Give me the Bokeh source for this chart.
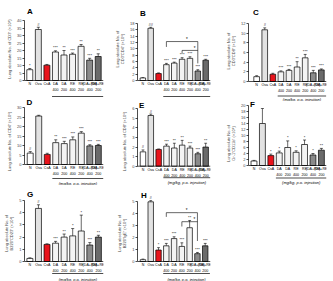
from bokeh.plotting import figure
from bokeh.layouts import row, column
from bokeh.models import Range1d, FixedTicker, LinearAxis, Span, Spacer, ColumnDataSource
from bokeh.core.properties import value
from bokeh.embed import file_html
from bokeh.resources import INLINE

# ---- shared categories -------------------------------------------------
groups = ["N", "Ova", "CsA", "DA", "DA", "RE", "RE", "(DA+RE)", "(DA+RE)"]
doses = ["", "", "", "400", "200", "400", "200", "400", "200"]
bar_colors = ["#ffffff", "#e2e2e2", "#e8141c", "#f3f3f3", "#f3f3f3",
              "#f3f3f3", "#f3f3f3", "#8a8a8a", "#6a6a6a"]
caption = "(mg/kg, p.o. injection)"

# ---- panel values (mean, error, significance marks) ---------------------
a_vals = [7.2, 34.0, 10.2, 19.0, 17.0, 17.5, 22.8, 13.6, 16.0]
a_err = [0.8, 1.5, 0.5, 0.8, 3.0, 0.8, 1.2, 1.2, 1.8]
a_sig = ["*", "#", "", "***", "**", "***", "**", "***", "**"]

b_vals = [0.8, 16.5, 2.2, 5.0, 5.5, 6.7, 7.0, 3.0, 6.4]
b_err = [0.1, 0.3, 0.2, 0.4, 0.3, 0.5, 0.5, 0.4, 0.3]
b_sig = ["", "##", "", "***", "***", "***", "***", "***", "***"]
b_brackets = [(3, 7, 12.3, 10.6, 5.4), (5, 7, 9.5, 8.7, 9.5)]

c_vals = [1.0, 10.7, 1.5, 2.0, 2.3, 3.0, 4.9, 1.8, 2.4]
c_err = [0.2, 0.4, 0.2, 0.2, 0.2, 1.1, 0.7, 0.5, 0.2]
c_sig = ["", "#", "", "***", "***", "**", "***", "***", "***"]

d_vals = [6.0, 25.5, 5.3, 11.5, 11.0, 13.0, 16.5, 9.8, 10.0]
d_err = [0.8, 0.4, 0.6, 1.5, 1.2, 1.5, 0.8, 0.6, 0.6]
d_sig = ["#", "", "", "**", "***", "***", "***", "***", "***"]

e_vals = [1.5, 5.3, 1.75, 2.1, 1.9, 2.2, 1.9, 1.3, 2.0]
e_err = [0.2, 0.15, 0.05, 0.2, 0.5, 0.5, 0.2, 0.15, 0.4]
e_sig = ["#", "#", "", "***", "**", "**", "***", "***", "**"]

f_vals = [1.5, 14.0, 3.3, 4.2, 6.0, 4.4, 7.0, 3.5, 5.1]
f_err = [0.2, 5.0, 0.5, 0.6, 2.2, 0.5, 1.5, 0.5, 0.6]
f_sig = ["", "", "*", "*", "*", "*", "*", "*", "**"]

g_vals = [0.25, 4.35, 1.4, 1.5, 2.0, 2.1, 2.5, 1.35, 2.0]
g_err = [0.05, 0.3, 0.05, 0.15, 0.25, 0.6, 1.3, 0.2, 0.15]
g_sig = ["", "#", "", "***", "**", "*", "*", "***", "**"]

h_vals = [0.15, 4.95, 0.95, 1.3, 1.9, 1.25, 2.8, 0.65, 1.3]
h_err = [0.05, 0.1, 0.2, 0.2, 0.15, 0.3, 0.6, 0.1, 0.2]
h_sig = ["", "#", "*", "***", "***", "***", "**", "***", "***"]
h_brackets = [(3, 7, 4.05, 3.7, 1.7), (5, 7, 3.3, 2.9, 3.3)]

FONT = "Liberation Sans"


def make_panel(letter, ylabel, ymax, step, vals, errs, sigs, size, left,
               centers, top, base, letter_pos, underline=None, cap_px=None,
               brackets=None):
    W, H = size
    n = len(vals)
    c0, c8 = centers
    u = (c8 - c0) / (n - 1)
    right_px = c8 + 0.65 * u
    br = int(round(W - right_px))
    frame_w = W - left - br
    xs = -(c0 - left) / u
    xe = xs + frame_w / u
    s = (base - top) / ymax
    ye = ymax + top / s
    ys = -(H - base) / s

    p = figure(width=W, height=H, title=None,
               x_range=Range1d(xs, xe), y_range=Range1d(ys, ye),
               x_axis_type=None, y_axis_type=None,
               toolbar_location=None, output_backend="svg",
               min_border_left=left, min_border_right=br,
               min_border_top=0, min_border_bottom=0,
               outline_line_color=None, background_fill_color="white",
               border_fill_color="white")

    ticks = [i * step for i in range(int(round(ymax / step)) + 1)]
    ax = LinearAxis(ticker=FixedTicker(ticks=ticks, minor_ticks=[]),
                    bounds=(0, ymax), axis_label=ylabel,
                    axis_line_width=0.7, major_tick_line_width=0.7,
                    major_tick_out=2, major_tick_in=0,
                    major_label_standoff=1, axis_label_standoff=2,
                    major_label_text_font=FONT,
                    major_label_text_font_size="4px",
                    axis_label_text_font=FONT,
                    axis_label_text_font_size="4px",
                    axis_label_text_font_style="normal",
                    axis_label_text_line_height=1.1)
    p.add_layout(ax, "left")
    p.add_layout(Span(location=0, dimension="width", line_color="black",
                      line_width=0.7))

    xs_idx = list(range(n))
    src = ColumnDataSource(dict(
        x=xs_idx, top=vals, color=bar_colors,
        hi=[v + e for v, e in zip(vals, errs)],
        cl=[x - 0.18 for x in xs_idx], cr=[x + 0.18 for x in xs_idx],
        sig=sigs, grp=groups, dose=doses))

    p.segment(x0="x", y0="top", x1="x", y1="hi", source=src,
              line_color="black", line_width=0.6)
    p.segment(x0="cl", y0="hi", x1="cr", y1="hi", source=src,
              line_color="black", line_width=0.6)
    p.vbar(x="x", top="top", bottom=0, width=0.7, source=src,
           fill_color="color", line_color="black", line_width=0.7)

    p.text(x="x", y="hi", text="sig", source=src, y_offset=-0.5,
           text_align="center", text_baseline="bottom",
           text_font=value(FONT), text_font_size="4px", text_color="black")

    # two-line category labels under the bars
    p.text(x="x", y=0, text="grp", source=src, y_offset=3.5,
           text_align="center", text_baseline="middle",
           text_font=value(FONT), text_font_size="3.6px", text_color="black")
    p.text(x="x", y=0, text="dose", source=src, y_offset=9,
           text_align="center", text_baseline="middle",
           text_font=value(FONT), text_font_size="3.6px", text_color="black")

    if underline is not None:
        yu = -underline / s
        p.segment(x0=[2.6], y0=[yu], x1=[8.6], y1=[yu],
                  line_color="black", line_width=0.7)
    if cap_px is not None:
        p.text(x=[5.6], y=[0], text=[caption], y_offset=cap_px,
               text_align="center", text_baseline="middle",
               text_font=value(FONT), text_font_size="4px",
               text_font_style="italic", text_color="black")

    if brackets:
        for x0, x1, yb, yl, yr in brackets:
            p.segment(x0=[x0, x0, x1], y0=[yb, yb, yb],
                      x1=[x1, x0, x1], y1=[yb, yl, yr],
                      line_color="black", line_width=0.6)
            p.text(x=[(x0 + x1) / 2 + 0.6], y=[yb], text=["*"], y_offset=0.5,
                   text_align="center", text_baseline="bottom",
                   text_font=value(FONT), text_font_size="4.5px",
                   text_color="black")

    lx, ly = letter_pos
    p.text(x=[xs], y=[ye], text=[letter], x_offset=lx - left - 3,
           y_offset=ly, text_align="left", text_baseline="middle",
           text_font=value(FONT), text_font_size="8px",
           text_font_style="bold", text_color="black")
    return p


lab1 = "Lung absolute No. of CD3\u207a (\u00d710\u2074)"
pa = make_panel("A", lab1, 40, 5, a_vals, a_err, a_sig, (111, 97), 19,
                (24.7, 98.3), 20, 80, (24.5, 10.5), underline=16)
pb = make_panel("B", "Lung absolute No. of\nCD3\u207aCD4\u207a (\u00d710\u2074)",
                18, 2, b_vals, b_err, b_sig, (111, 97), 20, (26.3, 100.3),
                23, 80, (25.5, 12.5), underline=16, brackets=b_brackets)
pc = make_panel("C", "Lung absolute No. of\nCD3\u207aCD8\u207a (\u00d710\u2074)",
                12, 2, c_vals, c_err, c_sig, (111, 101), 20, (29.2, 102.2),
                23, 81, (27.5, 11.8), underline=14.5, cap_px=17.5)
pd = make_panel("D", "Lung absolute No. of CD4\u207a (\u00d710\u2074)",
                30, 5, d_vals, d_err, d_sig, (111, 88), 19, (25.3, 100.3),
                10, 67, (24, 5), underline=14, cap_px=18.5)
pe = make_panel("E", "Lung absolute No. of CD8\u207a (\u00d710\u2074)",
                6, 1, e_vals, e_err, e_sig, (111, 88), 19, (25, 93.7),
                11.3, 68.7, (23.5, 7.5), underline=11.5, cap_px=16.5)
pf = make_panel("F", "Lung absolute No. of\nGr-1\u207aCD11b\u207a (\u00d710\u2074)",
                20, 2, f_vals, f_err, f_sig, (111, 84), 23, (28.7, 98.7),
                4, 64, (27.5, 3), underline=12.5, cap_px=16.5)
pg = make_panel("G", "Lung absolute No. of\nB220\u207aCD23\u207a (\u00d710\u2074)",
                5, 1, g_vals, g_err, g_sig, (111, 96), 18, (23.8, 97.5),
                15, 76, (23.5, 9), underline=12, cap_px=17.5)
ph = make_panel("H", "Lung absolute No. of\nB220\u207aIgE\u207a (\u00d710\u2074)",
                5, 1, h_vals, h_err, h_sig, (111, 96), 18, (24.5, 98.7),
                15.7, 76, (24.5, 9.5), underline=12, cap_px=17.5,
                brackets=h_brackets)

layout = row(column(pa, pd, pg, spacing=0),
             column(pb, pe, ph, spacing=0),
             column(pc, pf, Spacer(width=111, height=96), spacing=0),
             spacing=0)

open("out.html", "w").write(file_html(layout, INLINE))
